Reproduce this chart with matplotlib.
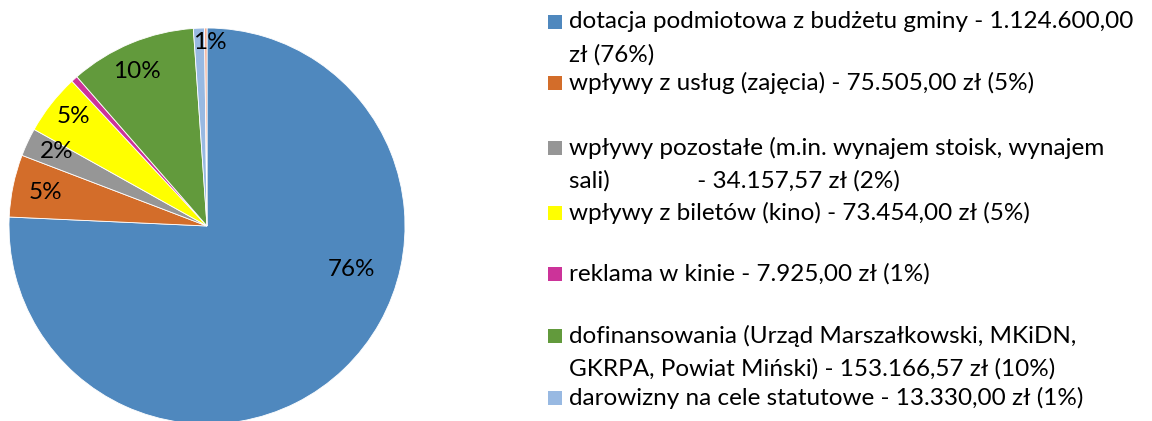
import matplotlib.pyplot as plt
from matplotlib.patches import Rectangle

plt.rcParams['font.family'] = ['Lato', 'DejaVu Sans']

# dane
values = [1124600.00, 75505.00, 34157.57, 73454.00, 7925.00, 153166.57, 13330.00, 3000.00]
colors = ['#4F88BE', '#D36D2A', '#969696', '#FFFF00', '#CC3399', '#629A3C', '#98B9E2', '#F2A88E']
pct_labels = ['76%', '5%', '2%', '5%', '', '10%', '1%', '']
legend_labels = [
    'dotacja podmiotowa z budżetu gminy - 1.124.600,00\nzł (76%)',
    'wpływy z usług (zajęcia) - 75.505,00 zł (5%)',
    'wpływy pozostałe (m.in. wynajem stoisk, wynajem\nsali)              - 34.157,57 zł (2%)',
    'wpływy z biletów (kino) - 73.454,00 zł (5%)',
    'reklama w kinie - 7.925,00 zł (1%)',
    'dofinansowania (Urząd Marszałkowski, MKiDN,\nGKRPA, Powiat Miński) - 153.166,57 zł (10%)',
    'darowizny na cele statutowe - 13.330,00 zł (1%)',
]

# pozycje etykiet (jak w Excelu, "najlepsze dopasowanie")
label_pos = [(0.732, -0.222), (-0.818, 0.167), (-0.758, 0.374), (-0.672, 0.551),
             (0, 0), (-0.354, 0.778), (0.015, 0.929), (0, 0)]

W, H = 1152, 421
fig = plt.figure(figsize=(W / 100, H / 100), dpi=100)

# wykres kołowy
cx, cy, r = 207, 226, 198
ax = fig.add_axes([(cx - r) / W, (H - cy - r) / H, 2 * r / W, 2 * r / H])
ax.pie(values, colors=colors, startangle=90, counterclock=False, radius=1,
       wedgeprops=dict(linewidth=0.6, edgecolor='white'))
for txt, (x, y) in zip(pct_labels, label_pos):
    if txt:
        ax.text(x, y, txt, ha='center', va='center', fontsize=17.5, color='black')
ax.set_xlim(-1, 1)
ax.set_ylim(-1, 1)
ax.set_aspect('equal')
ax.axis('off')

# legenda
line_y = [22, 83, 148, 213, 274, 336, 398]
for lab, col, y in zip(legend_labels, colors, line_y):
    fig.patches.append(Rectangle((548 / W, (H - y - 7) / H), 14 / W, 14 / H,
                                 facecolor=col, edgecolor='none',
                                 transform=fig.transFigure, figure=fig))
    for i, line in enumerate(lab.split('\n')):
        fig.text(569 / W, (H - y - 33 * i) / H, line, ha='left', va='center',
                 fontsize=17.5, color='black')

plt.savefig('out.png', dpi=100)
